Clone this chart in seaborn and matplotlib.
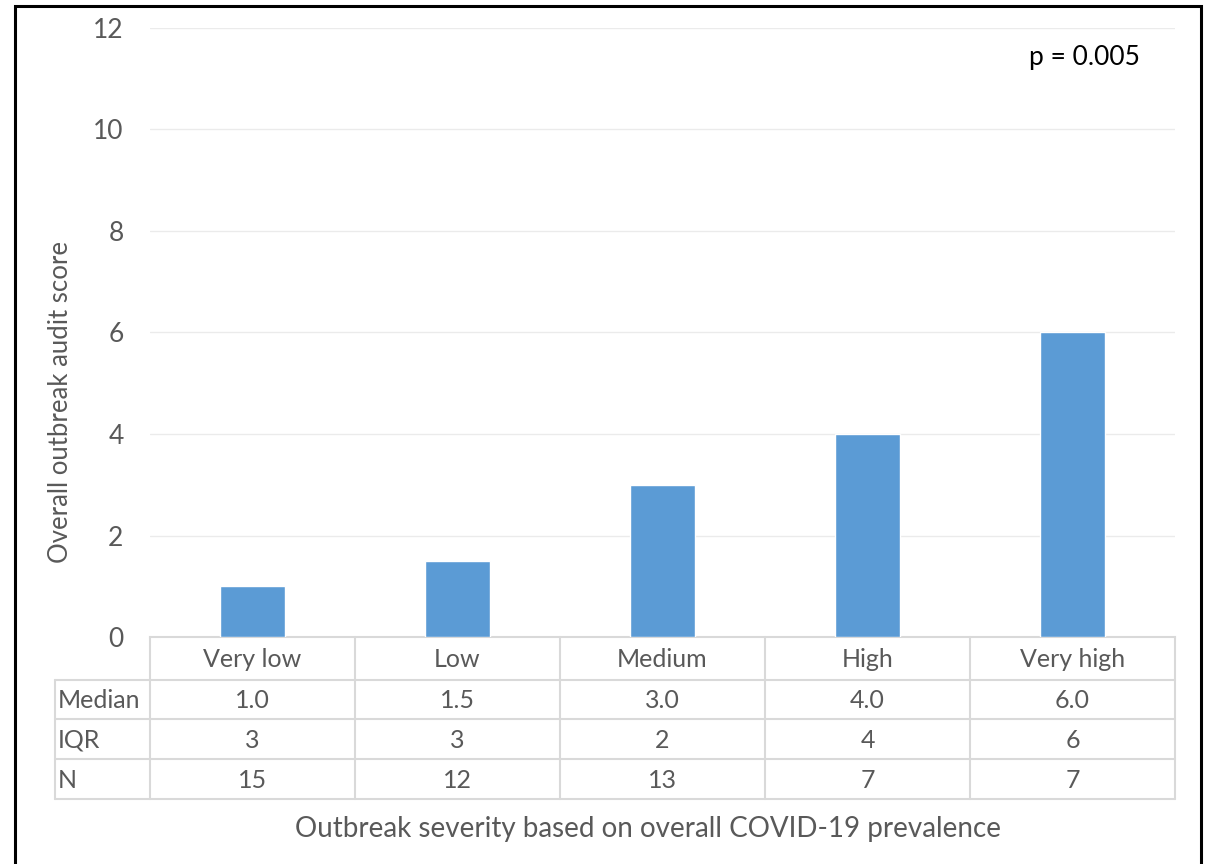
import matplotlib
matplotlib.use("Agg")
import matplotlib.pyplot as plt
import matplotlib.transforms as mtransforms
from matplotlib.patches import Rectangle
import seaborn as sns
import pandas as pd

categories = ["Very low", "Low", "Medium", "High", "Very high"]
medians = [1.0, 1.5, 3.0, 4.0, 6.0]
iqr = [3, 3, 2, 4, 6]
n_values = [15, 12, 13, 7, 7]
row_labels = ["Median", "IQR", "N"]
y_ticks = [0, 2, 4, 6, 8, 10, 12]
p_text = "p = 0.005"
y_label = "Overall outbreak audit score"
x_label = "Outbreak severity based on overall COVID-19 prevalence"

sns.set_theme(style="white")
plt.rcParams["font.family"] = ["Lato", "DejaVu Sans"]

TXT = "#595959"
GRID = "#EBEBEB"
LINE = "#D9D9D9"
BAR = "#5B9BD5"

W, H = 1209, 864
fig = plt.figure(figsize=(W / 100, H / 100), dpi=100)
fig.patch.set_facecolor("white")

L, R, T, B = 150, 1175, 28, 637
ax = fig.add_axes([L / W, 1 - B / H, (R - L) / W, (B - T) / H])

df = pd.DataFrame({"cat": categories, "val": medians})
sns.barplot(data=df, x="cat", y="val", color=BAR, width=0.32, saturation=1,
            ax=ax, zorder=3)

ax.set_ylim(0, 12)
ax.set_xlim(-0.5, 4.5)
ax.set_yticks(y_ticks)
ax.set_yticklabels([str(t) for t in y_ticks], fontsize=19, color=TXT)
ax.tick_params(axis="y", length=0, pad=19)
ax.set_xticks([])
ax.set_xlabel("")
ax.set_ylabel("")
for s in ["top", "right", "left"]:
    ax.spines[s].set_visible(False)
ax.spines["bottom"].set_color(LINE)
ax.spines["bottom"].set_linewidth(1.5)
ax.yaxis.grid(True, color=GRID, linewidth=1.0, zorder=0)
ax.set_axisbelow(True)

# data table below the axis
ax_h_px = B - T
def yfrac(ypx):
    return (B - ypx) / ax_h_px

trans = mtransforms.blended_transform_factory(ax.transData, ax.transAxes)
row_edges = [637, 680, 719, 759, 799]
left_col_x = -0.5 - (150 - 55) / 205.0

for i, yp in enumerate(row_edges):
    if i == 0:
        continue
    ax.plot([left_col_x, 4.5], [yfrac(yp), yfrac(yp)], transform=trans,
            color=LINE, lw=1.5, clip_on=False)
for xb in [-0.5, 0.5, 1.5, 2.5, 3.5, 4.5]:
    ax.plot([xb, xb], [yfrac(637), yfrac(799)], transform=trans,
            color=LINE, lw=1.5, clip_on=False)
ax.plot([left_col_x, left_col_x], [yfrac(680), yfrac(799)], transform=trans,
        color=LINE, lw=1.5, clip_on=False)

FS = 18
header_mid = yfrac((637 + 680) / 2 + 1)
for i, c in enumerate(categories):
    ax.text(i, header_mid, c, transform=trans, ha="center", va="center",
            fontsize=FS, color=TXT, clip_on=False)

rows = [[f"{v:.1f}" for v in medians], [str(v) for v in iqr], [str(v) for v in n_values]]
for r, (lab, vals) in enumerate(zip(row_labels, rows)):
    ymid = yfrac((row_edges[r + 1] + row_edges[r + 2]) / 2 + 1)
    ax.text(left_col_x + 0.015, ymid, lab, transform=trans, ha="left", va="center",
            fontsize=FS, color=TXT, clip_on=False)
    for i, v in enumerate(vals):
        ax.text(i, ymid, v, transform=trans, ha="center", va="center",
                fontsize=FS, color=TXT, clip_on=False)

fig.text(60 / W, 1 - 402 / H, y_label, rotation=90, ha="center", va="center",
         fontsize=18.5, color=TXT)
fig.text(648 / W, 1 - 829 / H, x_label, ha="center", va="center",
         fontsize=20, color=TXT)
fig.text(1084 / W, 1 - 58 / H, p_text, ha="center", va="center",
         fontsize=19, color="black")

fig.patches.append(Rectangle((15 / W, -0.01), (1201 - 15) / W, (H - 6) / H + 0.01,
                             transform=fig.transFigure, fill=False,
                             edgecolor="black", linewidth=2.2, zorder=10))

fig.savefig("out.png", dpi=100, facecolor="white")
